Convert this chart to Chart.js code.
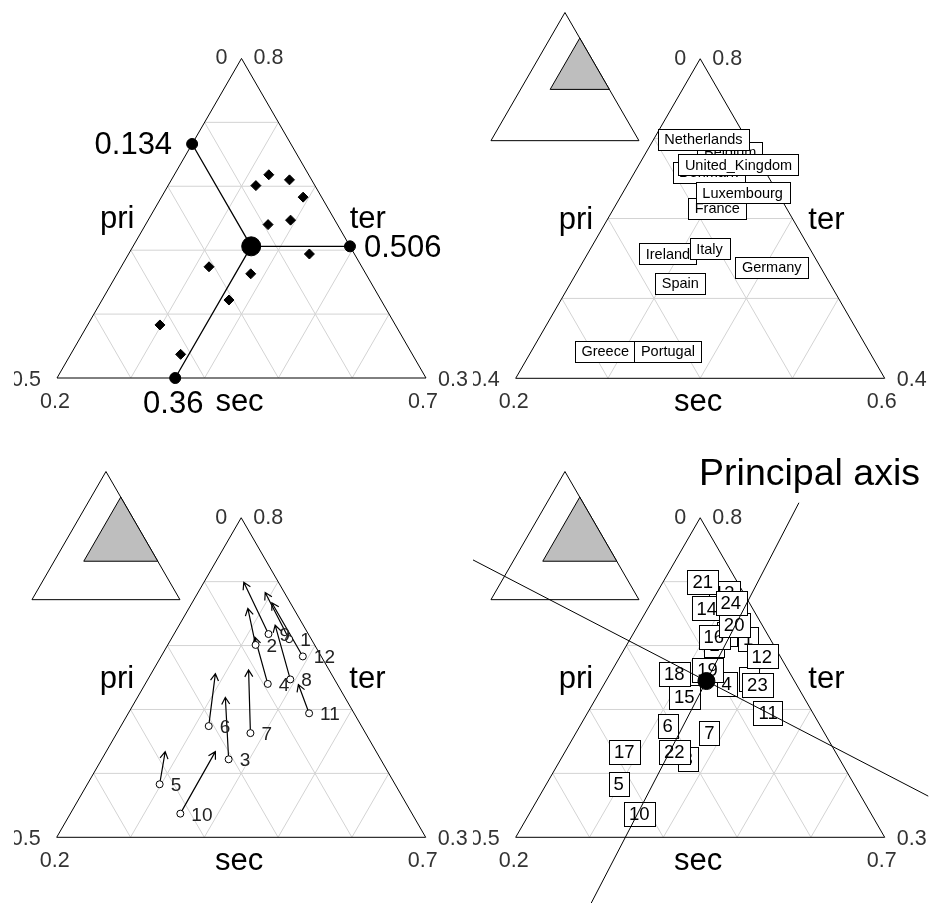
<!DOCTYPE html>
<html>
<head>
<meta charset="utf-8">
<title>Employment by sector: ternary plots</title>
<script src="https://cdn.jsdelivr.net/npm/chart.js@4.4.1/dist/chart.umd.min.js"></script>
<style>
  html, body { margin: 0; padding: 0; background: #fff; }
  #page { position: relative; width: 930px; height: 903px; overflow: hidden; background: #fff; }
  #page canvas { position: absolute; }
</style>
</head>
<body>
<div id="page">
  <canvas id="c78"></canvas>
  <canvas id="c86"></canvas>
  <canvas id="cBi"></canvas>
  <canvas id="cAll"></canvas>
</div>
<script>
// Share of employment in the primary, secondary and tertiary sectors, 12 EEC countries
const countries = ['Belgium', 'Denmark', 'Spain', 'France', 'Greece', 'Ireland', 'Italy',
                   'Luxembourg', 'Netherlands', 'Portugal', 'Germany', 'United_Kingdom'];

// 1978
const pri78 = [0.030, 0.080, 0.206, 0.094, 0.319, 0.207, 0.156, 0.060, 0.054, 0.314, 0.061, 0.025];
const sec78 = [0.360, 0.319, 0.372, 0.366, 0.298, 0.319, 0.381, 0.393, 0.328, 0.349, 0.445, 0.392];
const ter78 = [0.610, 0.601, 0.422, 0.540, 0.383, 0.474, 0.463, 0.547, 0.618, 0.337, 0.494, 0.583];

// 1986
const pri86 = [0.026, 0.062, 0.162, 0.075, 0.286, 0.157, 0.109, 0.038, 0.047, 0.218, 0.053, 0.025];
const sec86 = [0.291, 0.280, 0.319, 0.312, 0.280, 0.287, 0.329, 0.330, 0.254, 0.348, 0.408, 0.308];
const ter86 = [0.683, 0.658, 0.519, 0.613, 0.434, 0.556, 0.562, 0.632, 0.699, 0.434, 0.539, 0.667];

// Lower limits (pri, sec, ter) and common span of the zoomed triangles
const lim78 = [0, 0.2, 0.3];
const lim86 = [0, 0.2, 0.4];
const span78 = 0.5;
const span86 = 0.4;

const axisNames = ['pri', 'sec', 'ter'];
const subTitle = 'Principal axis';

// ---- geometry & layout -------------------------------------------------
const SQ = Math.sqrt(3) / 2;
const SIDE = 369;                 // pixels per triangle side
const STEP = 0.1;                 // grid spacing in proportion units
const FONT = '"Liberation Sans", Arial, Helvetica, sans-serif';
const INSET = { x: -0.067, y: 0.644, side: 0.401 };   // small reference triangle
const PLOT_HALF = 0.618;          // half size of the clipping square around the centroid

// canvas box (it also clips the text) and bottom-left vertex of each triangle, page pixels
const frames = {
  c78:  { left: 14,  top: 0,   w: 461, h: 445, blx: 57,    bly: 378 },
  c86:  { left: 473, top: 0,   w: 457, h: 445, blx: 515.7, bly: 378.3 },
  cBi:  { left: 14,  top: 445, w: 461, h: 458, blx: 56.7,  bly: 837.3 },
  cAll: { left: 473, top: 445, w: 457, h: 458, blx: 515.7, bly: 837.3 }
};

// ternary composition -> cartesian position inside a unit-side triangle
function toXY(p, s, t, lim, span) {
  const a = (p - lim[0]) / span, b = (s - lim[1]) / span, c = (t - lim[2]) / span;
  const tot = a + b + c;
  return { x: (b + c / 2) / tot, y: (c / tot) * SQ };
}
const mean = arr => arr.reduce((u, v) => u + v, 0) / arr.length;
const fmt = v => String(parseFloat(v.toFixed(3)));

const pts78 = pri78.map((p, i) => toXY(p, sec78[i], ter78[i], lim78, span78));
const pts86 = pri86.map((p, i) => toXY(p, sec86[i], ter86[i], lim86, span86));
const pts86w = pri86.map((p, i) => toXY(p, sec86[i], ter86[i], lim78, span78));

// ---- drawing helpers ---------------------------------------------------
function P(chart, x, y) {
  return [chart.scales.x.getPixelForValue(x), chart.scales.y.getPixelForValue(y)];
}
function seg(ctx, a, b) { ctx.moveTo(a[0], a[1]); ctx.lineTo(b[0], b[1]); }
function text(ctx, str, x, y, size, align, color, base) {
  ctx.font = size + 'px ' + FONT;
  ctx.fillStyle = color || '#000';
  ctx.textAlign = align;
  ctx.textBaseline = base || 'alphabetic';
  ctx.fillText(str, x, y);
}
function tri(ctx, a, b, c, fill) {
  ctx.beginPath();
  ctx.moveTo(a[0], a[1]); ctx.lineTo(b[0], b[1]); ctx.lineTo(c[0], c[1]);
  ctx.closePath();
  if (fill) { ctx.fillStyle = fill; ctx.fill(); }
  ctx.stroke();
}

function drawTriangle(chart, lim, span) {
  const ctx = chart.ctx, n = Math.round(span / STEP);
  ctx.save();
  ctx.lineWidth = 1;
  ctx.strokeStyle = '#d3d3d3';
  ctx.beginPath();
  for (let k = 1; k < n; k++) {
    const f = k / n;
    seg(ctx, P(chart, f / 2, f * SQ), P(chart, 1 - f / 2, f * SQ));          // constant ter
    seg(ctx, P(chart, (1 - f) / 2, (1 - f) * SQ), P(chart, 1 - f, 0));       // constant pri
    seg(ctx, P(chart, f, 0), P(chart, (1 + f) / 2, (1 - f) * SQ));           // constant sec
  }
  ctx.stroke();
  const bl = P(chart, 0, 0), br = P(chart, 1, 0), ap = P(chart, 0.5, SQ);
  ctx.strokeStyle = '#000';
  tri(ctx, bl, br, ap, null);

  const tc = '#333', ts = 21.5;
  text(ctx, fmt(lim[0]), ap[0] - 14, ap[1] + 6, ts, 'right', tc);
  text(ctx, fmt(lim[2] + span), ap[0] + 12, ap[1] + 6, ts, 'left', tc);
  text(ctx, fmt(lim[0] + span), bl[0] - 16, bl[1] + 8, ts, 'right', tc);
  text(ctx, fmt(lim[1]), bl[0] - 2, bl[1] + 30, ts, 'center', tc);
  text(ctx, fmt(lim[2]), br[0] + 12, br[1] + 8, ts, 'left', tc);
  text(ctx, fmt(lim[1] + span), br[0] - 3, br[1] + 30, ts, 'center', tc);

  const lm = P(chart, 0.25, SQ / 2), rm = P(chart, 0.75, SQ / 2), bm = P(chart, 0.5, 0);
  text(ctx, axisNames[0], lm[0] - 32, lm[1] + 10, 31, 'center');
  text(ctx, axisNames[2], rm[0] + 34, rm[1] + 10, 31, 'center');
  text(ctx, axisNames[1], bm[0] - 2, bm[1] + 33, 31, 'center');
  ctx.restore();
}

function drawInset(chart, lim, span) {
  const ctx = chart.ctx;
  const Q = (s, t) => P(chart, INSET.x + INSET.side * (s + t / 2), INSET.y + INSET.side * t * SQ);
  ctx.save();
  ctx.lineWidth = 1;
  ctx.strokeStyle = '#000';
  tri(ctx, Q(0, 0), Q(1, 0), Q(0, 1), '#fff');
  tri(ctx, Q(lim[1], lim[2]), Q(lim[1] + span, lim[2]), Q(lim[1], lim[2] + span), '#bebebe');
  ctx.restore();
}

function boxLabel(ctx, str, x, y, size, padX, h) {
  ctx.font = size + 'px ' + FONT;
  const w = ctx.measureText(str).width + 2 * padX;
  const x0 = Math.round(x - w / 2) + 0.5, y0 = Math.round(y - h / 2) + 0.5;
  ctx.fillStyle = '#fff';
  ctx.fillRect(x0, y0, Math.round(w), h);
  ctx.strokeStyle = '#000';
  ctx.lineWidth = 1;
  ctx.strokeRect(x0, y0, Math.round(w), h);
  text(ctx, str, x, y + 1, size, 'center', '#000', 'middle');
}

function arrow(ctx, x0, y0, x1, y1, len, ang) {
  const a = Math.atan2(y1 - y0, x1 - x0);
  ctx.beginPath();
  ctx.moveTo(x0, y0); ctx.lineTo(x1, y1);
  ctx.moveTo(x1 - len * Math.cos(a - ang), y1 - len * Math.sin(a - ang));
  ctx.lineTo(x1, y1);
  ctx.lineTo(x1 - len * Math.cos(a + ang), y1 - len * Math.sin(a + ang));
  ctx.stroke();
}

function makeChart(id, datasets, hooks) {
  const fr = frames[id];
  const cv = document.getElementById(id);
  cv.width = fr.w; cv.height = fr.h;
  cv.style.left = fr.left + 'px'; cv.style.top = fr.top + 'px';
  cv.style.width = fr.w + 'px'; cv.style.height = fr.h + 'px';
  return new Chart(cv, {
    type: 'scatter',
    data: { datasets },
    options: {
      responsive: false,
      animation: false,
      devicePixelRatio: 1,
      events: [],
      layout: { padding: 0, autoPadding: false },
      plugins: { legend: { display: false }, tooltip: { enabled: false }, title: { display: false } },
      scales: {
        x: { type: 'linear', display: false, bounds: 'data',
             min: (fr.left - fr.blx) / SIDE, max: (fr.left + fr.w - fr.blx) / SIDE },
        y: { type: 'linear', display: false, bounds: 'data',
             min: (fr.bly - fr.top - fr.h) / SIDE, max: (fr.bly - fr.top) / SIDE }
      }
    },
    plugins: [{
      id: 'ternaryLayers',
      beforeDatasetsDraw(chart) { if (hooks.before) hooks.before(chart); },
      afterDatasetDraw(chart, args) { if (hooks.afterSet) hooks.afterSet(chart, args.index); },
      afterDatasetsDraw(chart) { if (hooks.after) hooks.after(chart); }
    }]
  });
}

const dot = (data, r, style, fill) => ({
  data, pointRadius: r, pointHoverRadius: r, pointStyle: style || 'circle',
  backgroundColor: fill || '#000', borderColor: '#000', borderWidth: 1, clip: false
});

// ---- 1: 1978 with mean and its three coordinates ------------------------
const mPri = mean(pri78), mSec = mean(sec78), mTer = mean(ter78);
const meanPt = toXY(mPri, mSec, mTer, lim78, span78);
const edgePts = [
  toXY(mPri, lim78[1], 1 - mPri - lim78[1], lim78, span78),   // on the pri side
  toXY(lim78[0], 1 - mTer - lim78[0], mTer, lim78, span78),   // on the ter side
  toXY(1 - mSec - lim78[2], mSec, lim78[2], lim78, span78)    // on the sec side
];

makeChart('c78', [
  dot([meanPt], 9.5),
  dot(edgePts, 5.5),
  dot(pts78, 5, 'rectRot')
], {
  before(chart) {
    drawTriangle(chart, lim78, span78);
    const ctx = chart.ctx, m = P(chart, meanPt.x, meanPt.y);
    ctx.save();
    ctx.strokeStyle = '#000'; ctx.lineWidth = 1.3;
    ctx.beginPath();
    edgePts.forEach(e => seg(ctx, m, P(chart, e.x, e.y)));
    ctx.stroke();
    ctx.restore();
  },
  after(chart) {
    const ctx = chart.ctx, e = chart.getDatasetMeta(1).data;
    text(ctx, fmt(mPri), e[0].x - 20, e[0].y + 10, 31, 'right');
    text(ctx, fmt(mTer), e[1].x + 14, e[1].y + 11, 31, 'left');
    text(ctx, fmt(mSec), e[2].x - 2, e[2].y + 35, 31, 'center');
  }
});

// ---- 2: 1986 labelled by country ----------------------------------------
makeChart('c86', [dot(pts86, 0)], {
  before(chart) {
    drawInset(chart, lim86, span86);
    drawTriangle(chart, lim86, span86);
  },
  after(chart) {
    const ctx = chart.ctx;
    chart.getDatasetMeta(0).data.forEach((el, i) => boxLabel(ctx, countries[i], el.x, el.y, 14.5, 6.5, 21));
  }
});

// ---- 3: shift from 1978 to 1986 -----------------------------------------
makeChart('cBi', [dot(pts78, 3.5, 'circle', '#fff')], {
  before(chart) {
    drawInset(chart, lim78, span78);
    drawTriangle(chart, lim78, span78);
    const ctx = chart.ctx;
    ctx.save();
    ctx.strokeStyle = '#000'; ctx.lineWidth = 1.2;
    pts78.forEach((a, i) => {
      const p0 = P(chart, a.x, a.y), p1 = P(chart, pts86w[i].x, pts86w[i].y);
      arrow(ctx, p0[0], p0[1], p1[0], p1[1], 8, Math.PI / 6);
    });
    ctx.restore();
  },
  after(chart) {
    const ctx = chart.ctx;
    chart.getDatasetMeta(0).data.forEach((el, i) => text(ctx, String(i + 1), el.x + 11, el.y + 7, 19, 'left', '#222'));
  }
});

// ---- 4: both years with principal axes -----------------------------------
const allPts = pts78.concat(pts86w);
const mx = mean(allPts.map(p => p.x)), my = mean(allPts.map(p => p.y));
let sxx = 0, syy = 0, sxy = 0;
allPts.forEach(p => { sxx += (p.x - mx) ** 2; syy += (p.y - my) ** 2; sxy += (p.x - mx) * (p.y - my); });
const theta = 0.5 * Math.atan2(2 * sxy, sxx - syy);
const axisDirs = [[Math.cos(theta), Math.sin(theta)], [-Math.sin(theta), Math.cos(theta)]];

makeChart('cAll', [
  dot([{ x: mx, y: my }], 8.5),
  dot(allPts, 0)
], {
  before(chart) {
    drawInset(chart, lim78, span78);
    drawTriangle(chart, lim78, span78);
  },
  afterSet(chart, index) {
    if (index !== 1) return;
    const ctx = chart.ctx;
    chart.getDatasetMeta(1).data.forEach((el, i) => boxLabel(ctx, String(i + 1), el.x, el.y, 18.5, 5, 24));
    // principal axes, clipped to the square plotting region
    const cx = 0.5, cy = SQ / 3;
    const tl = P(chart, cx - PLOT_HALF, cy + PLOT_HALF), brc = P(chart, cx + PLOT_HALF, cy - PLOT_HALF);
    ctx.save();
    ctx.beginPath();
    ctx.rect(tl[0], tl[1], brc[0] - tl[0], brc[1] - tl[1]);
    ctx.clip();
    ctx.strokeStyle = '#000'; ctx.lineWidth = 1;
    ctx.beginPath();
    axisDirs.forEach(d => seg(ctx, P(chart, mx - 3 * d[0], my - 3 * d[1]), P(chart, mx + 3 * d[0], my + 3 * d[1])));
    ctx.stroke();
    ctx.restore();
  },
  after(chart) {
    const a = chart.chartArea;
    text(chart.ctx, subTitle, a.right - 10, a.top + 40, 37.5, 'right');
  }
});
</script>
</body>
</html>
